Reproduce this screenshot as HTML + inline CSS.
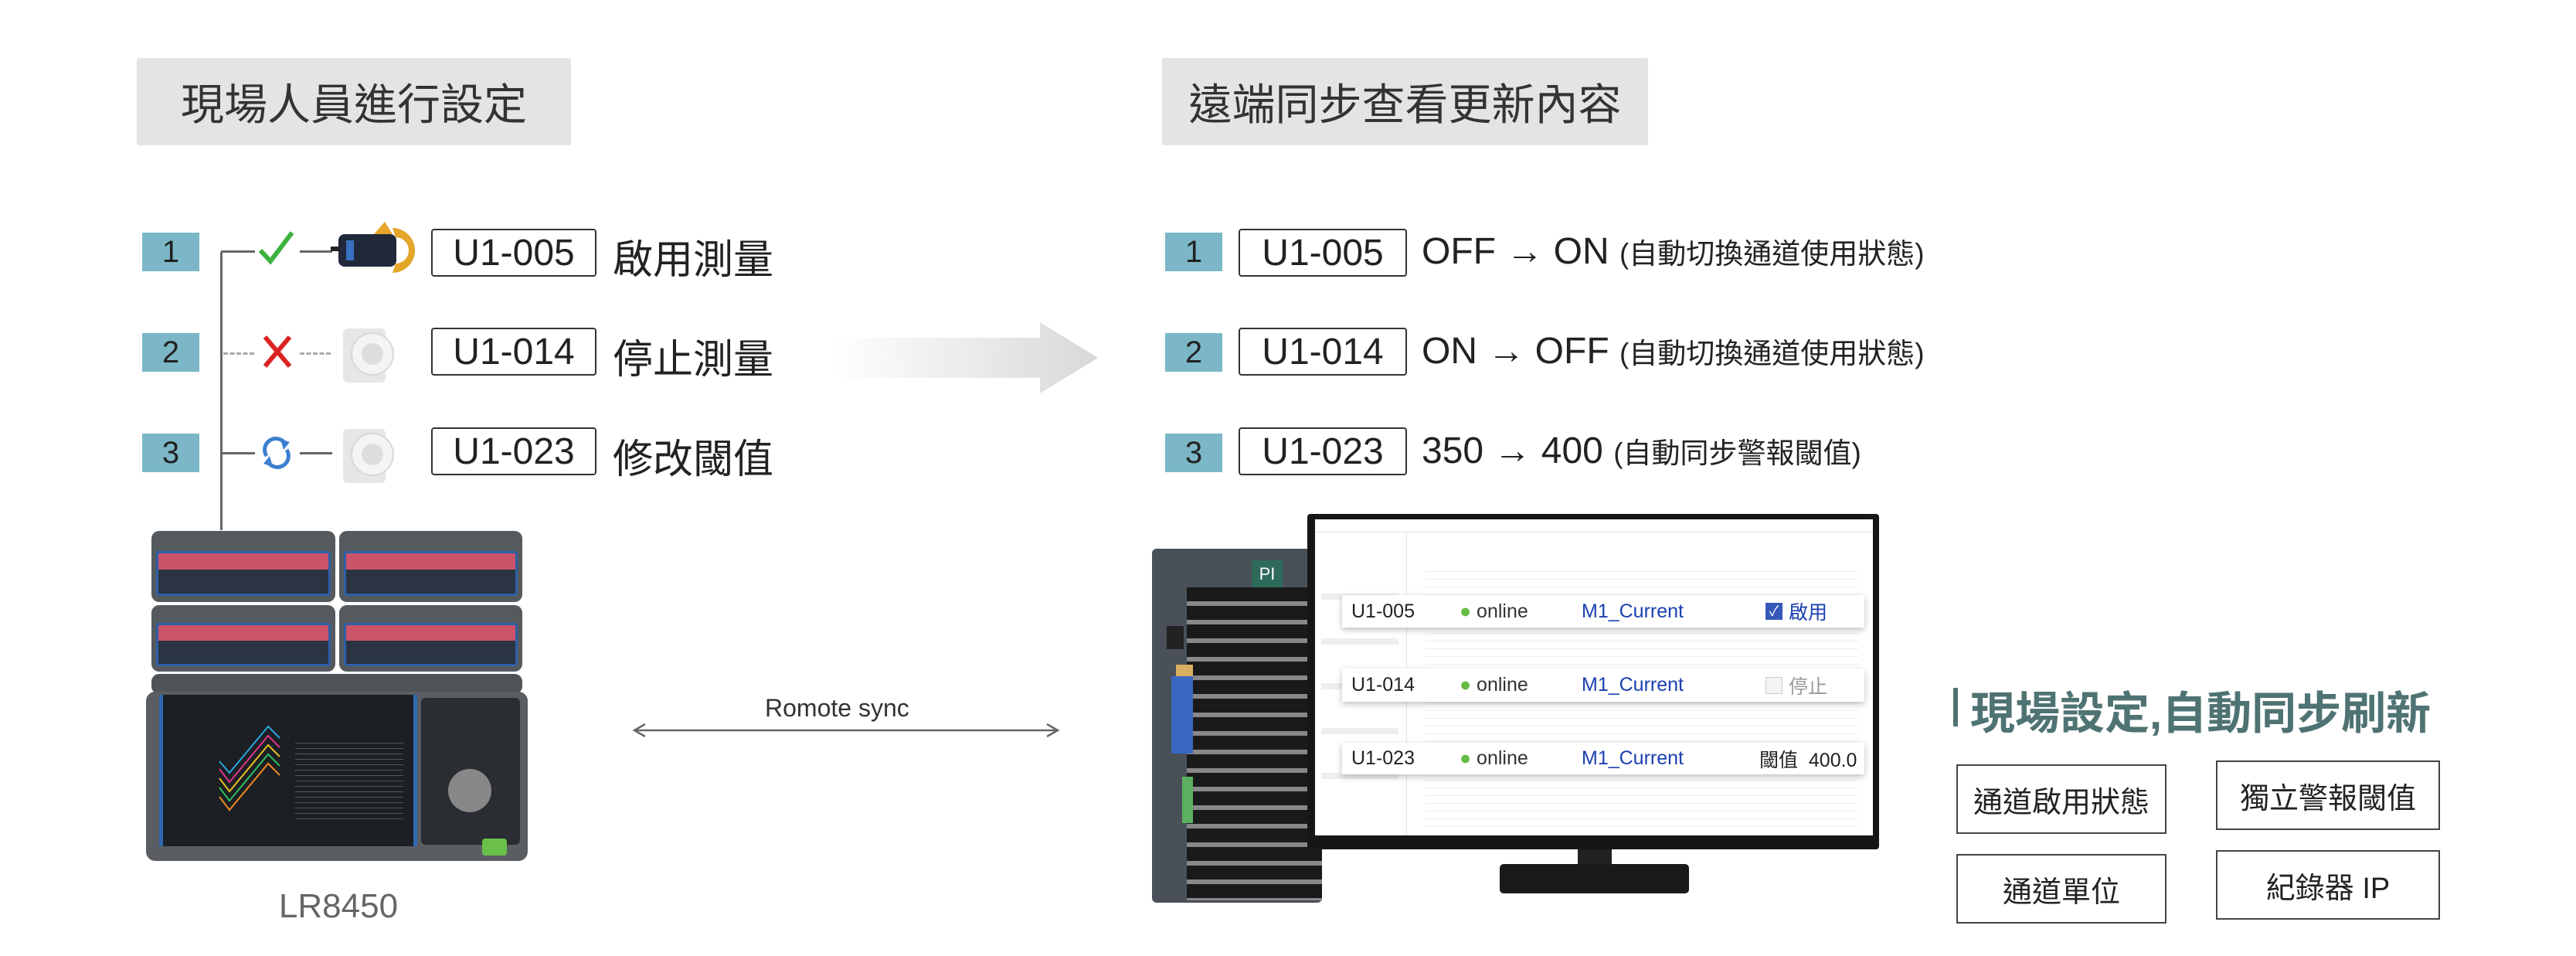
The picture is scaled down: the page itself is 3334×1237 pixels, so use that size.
<!DOCTYPE html>
<html><head><meta charset="utf-8"><style>
*{margin:0;padding:0;box-sizing:border-box}
body{width:3334px;height:1237px;background:#fff;position:relative;overflow:hidden;font-family:"Liberation Sans","Noto Sans CJK TC",sans-serif;color:#222}
.a{position:absolute}
.title{background:#e4e4e4;font-size:56px;color:#333;display:flex;align-items:center;justify-content:center;border-radius:3px}
.num{background:#7bb7c7;color:#222;font-size:40px;display:flex;align-items:center;justify-content:center;width:74px;height:50px}
.ubox{border:2.5px solid #333;border-radius:4px;font-size:48px;display:flex;align-items:center;justify-content:center;height:62px;width:214px;color:#222;background:#fff}
.lt{font-size:52px;color:#222;white-space:nowrap}
.rt{font-size:48px;color:#222;white-space:nowrap}
.rt small{font-size:37px}
.fb{border:2px solid #444;font-size:38px;display:flex;align-items:center;justify-content:center;background:#fff}
.mod{background:#555a5f;border-radius:10px}
.term{background:linear-gradient(#1e4a8a,#2b5fa8);border-radius:4px}
.ov{background:#fff;box-shadow:0 3px 8px rgba(0,0,0,.25);display:flex;align-items:center;font-size:25px}
</style></head><body>

<div class="a title" style="left:177px;top:75px;width:562px;height:113px">現場人員進行設定</div>
<div class="a title" style="left:1504px;top:75px;width:629px;height:113px">遠端同步查看更新內容</div>

<div class="a" style="left:285px;top:326px;width:3px;height:360px;background:#666"></div>
<div class="a num" style="left:184px;top:301px">1</div>
<div class="a num" style="left:184px;top:431px">2</div>
<div class="a num" style="left:184px;top:561px">3</div>
<div class="a" style="left:286px;top:324px;width:44px;height:3px;background:#666"></div>
<div class="a" style="left:388px;top:324px;width:42px;height:3px;background:#666"></div>
<div class="a" style="left:289px;top:456px;width:40px;border-top:3px dashed #aaa"></div>
<div class="a" style="left:388px;top:456px;width:40px;border-top:3px dashed #aaa"></div>
<div class="a" style="left:286px;top:585px;width:44px;height:3px;background:#666"></div>
<div class="a" style="left:388px;top:585px;width:42px;height:3px;background:#666"></div>
<svg class="a" style="left:332px;top:296px" width="52" height="50"><polyline points="5,28 18,42 46,5" fill="none" stroke="#3db23d" stroke-width="6"/></svg>
<svg class="a" style="left:337px;top:432px" width="44" height="46"><path d="M6,4 L38,42 M38,4 L6,42" stroke="#d22" stroke-width="6"/></svg>
<svg class="a" style="left:335px;top:562px" width="46" height="48"><path d="M10,28 A14,14 0 0 1 34,12" fill="none" stroke="#3b7fd0" stroke-width="5"/><path d="M36,20 A14,14 0 0 1 12,36" fill="none" stroke="#3b7fd0" stroke-width="5"/><polygon points="28,6 40,10 32,20" fill="#3b7fd0"/><polygon points="18,42 6,38 14,28" fill="#3b7fd0"/></svg>
<svg class="a" style="left:428px;top:285px" width="120" height="75"><rect x="10" y="18" width="75" height="42" rx="8" fill="#20283a"/><rect x="20" y="26" width="10" height="26" fill="#3a70c0"/><path d="M80,10 A28,28 0 1 1 80,68 L84,56 A17,17 0 1 0 84,22 Z" fill="#e3a62a"/><polygon points="56,18 70,2 80,18" fill="#e3a62a"/><rect x="0" y="34" width="12" height="6" fill="#222"/></svg>
<svg class="a" style="left:430px;top:420px" width="90" height="80"><rect x="14" y="5" width="55" height="70" rx="6" fill="#e6e6e6"/><circle cx="52" cy="38" r="27" fill="#f4f4f4" stroke="#d8d8d8" stroke-width="2"/><circle cx="52" cy="38" r="14" fill="#ddd"/></svg>
<svg class="a" style="left:430px;top:550px" width="90" height="80"><rect x="14" y="5" width="55" height="70" rx="6" fill="#e6e6e6"/><circle cx="52" cy="38" r="27" fill="#f4f4f4" stroke="#d8d8d8" stroke-width="2"/><circle cx="52" cy="38" r="14" fill="#ddd"/></svg>
<div class="a ubox" style="left:558px;top:296px">U1-005</div>
<div class="a ubox" style="left:558px;top:424px">U1-014</div>
<div class="a ubox" style="left:558px;top:553px">U1-023</div>
<div class="a lt" style="left:793px;top:294px">啟用測量</div>
<div class="a lt" style="left:793px;top:423px">停止測量</div>
<div class="a lt" style="left:793px;top:552px">修改閾值</div>

<div class="a mod" style="left:196px;top:687px;width:238px;height:92px"></div>
<div class="a term" style="left:202px;top:713px;width:226px;height:58px;background:linear-gradient(#cc5468 0 40%,#2a3442 40% 100%);border:3px solid #2e5fa8"></div>
<div class="a mod" style="left:439px;top:687px;width:237px;height:92px"></div>
<div class="a term" style="left:445px;top:713px;width:225px;height:58px;background:linear-gradient(#cc5468 0 40%,#2a3442 40% 100%);border:3px solid #2e5fa8"></div>
<div class="a mod" style="left:196px;top:783px;width:238px;height:86px"></div>
<div class="a term" style="left:202px;top:806px;width:226px;height:56px;background:linear-gradient(#cc5468 0 40%,#2a3442 40% 100%);border:3px solid #2e5fa8"></div>
<div class="a mod" style="left:439px;top:783px;width:237px;height:86px"></div>
<div class="a term" style="left:445px;top:806px;width:225px;height:56px;background:linear-gradient(#cc5468 0 40%,#2a3442 40% 100%);border:3px solid #2e5fa8"></div>
<div class="a mod" style="left:196px;top:872px;width:480px;height:26px;background:#4e5358"></div>
<div class="a" style="left:189px;top:895px;width:494px;height:219px;background:#5a5e63;border-radius:12px"></div>
<div class="a" style="left:206px;top:899px;width:334px;height:196px;background:#1c1f24;border-left:5px solid #2e6ab0;border-right:5px solid #2e6ab0"></div>
<svg class="a" style="left:282px;top:935px" width="90" height="130"><polyline points="2,50 15,65 65,5 80,20" fill="none" stroke="#29a8e0" stroke-width="2"/><polyline points="2,60 15,77 65,17 80,32" fill="none" stroke="#e0358a" stroke-width="2"/><polyline points="2,72 15,89 65,29 80,44" fill="none" stroke="#e8c020" stroke-width="2"/><polyline points="2,84 15,101 65,41 80,56" fill="none" stroke="#2ec060" stroke-width="2"/><polyline points="2,96 15,113 65,53 80,68" fill="none" stroke="#f08a20" stroke-width="2"/></svg>
<div class="a" style="left:382px;top:955px;width:140px;height:110px;background:repeating-linear-gradient(#1c1f24 0 6px,#555 6px 7px)"></div>
<div class="a" style="left:545px;top:903px;width:128px;height:190px;background:#2a2d32;border-radius:6px"></div>
<div class="a" style="left:580px;top:995px;width:56px;height:56px;border-radius:50%;background:#888"></div>
<div class="a" style="left:624px;top:1085px;width:32px;height:22px;background:#6ac04a;border-radius:4px"></div>
<div class="a" style="left:300px;top:1148px;width:276px;text-align:center;font-size:44px;color:#666">LR8450</div>

<svg class="a" style="left:1079px;top:417px" width="345" height="92"><defs><linearGradient id="g" x1="0" x2="1"><stop offset="0" stop-color="#fff"/><stop offset="1" stop-color="#d8d8d8"/></linearGradient></defs><polygon points="0,20 267,20 267,0 342,46 267,92 267,72 0,72" fill="url(#g)"/></svg>

<div class="a" style="left:990px;top:898px;font-size:32px;color:#333">Romote sync</div>
<svg class="a" style="left:815px;top:932px" width="560" height="26"><line x1="8" y1="13" x2="552" y2="13" stroke="#666" stroke-width="2.5"/><polyline points="20,5 6,13 20,21" fill="none" stroke="#666" stroke-width="2.5"/><polyline points="540,5 554,13 540,21" fill="none" stroke="#666" stroke-width="2.5"/></svg>

<div class="a num" style="left:1508px;top:301px">1</div>
<div class="a num" style="left:1508px;top:431px">2</div>
<div class="a num" style="left:1508px;top:561px">3</div>
<div class="a ubox" style="left:1603px;top:296px;width:218px">U1-005</div>
<div class="a ubox" style="left:1603px;top:424px;width:218px">U1-014</div>
<div class="a ubox" style="left:1603px;top:553px;width:218px">U1-023</div>
<div class="a rt" style="left:1840px;top:298px">OFF → ON <small>(自動切換通道使用狀態)</small></div>
<div class="a rt" style="left:1840px;top:427px">ON → OFF <small>(自動切換通道使用狀態)</small></div>
<div class="a rt" style="left:1840px;top:556px">350 → 400 <small>(自動同步警報閾值)</small></div>

<div class="a" style="left:1491px;top:710px;width:220px;height:458px;background:#4a5058;border-radius:6px"></div>
<div class="a" style="left:1536px;top:760px;width:175px;height:405px;background:repeating-linear-gradient(#1a1a1a 0 18px,#888 18px 24px)"></div>
<div class="a" style="left:1620px;top:725px;width:40px;height:35px;background:#2e6a5a;color:#fff;font-size:22px;text-align:center;line-height:35px">PI</div>
<div class="a" style="left:1510px;top:810px;width:22px;height:30px;background:#222"></div>
<div class="a" style="left:1522px;top:860px;width:22px;height:60px;background:#d8b060"></div>
<div class="a" style="left:1516px;top:875px;width:28px;height:100px;background:#3a68c0"></div>
<div class="a" style="left:1530px;top:1005px;width:14px;height:60px;background:#5cb060"></div>

<div class="a" style="left:2042px;top:1099px;width:44px;height:22px;background:#222"></div>
<div class="a" style="left:1941px;top:1118px;width:245px;height:38px;background:#1a1a1a;border-radius:5px"></div>
<div class="a" style="left:1692px;top:665px;width:740px;height:434px;background:#161616;border-radius:4px"></div>
<div class="a" style="left:1702px;top:672px;width:722px;height:409px;background:#fff"></div>
<div class="a" style="left:1702px;top:688px;width:722px;height:1px;background:#ddd"></div>
<div class="a" style="left:1820px;top:688px;width:1px;height:393px;background:#e4e4e4"></div>
<div class="a" style="left:1710px;top:718px;width:100px;height:300px;background:repeating-linear-gradient(#fff 0 50px,#eee 50px 58px)"></div>
<div class="a" style="left:1845px;top:730px;width:560px;height:340px;background:repeating-linear-gradient(#fff 0 9px,#ececec 9px 10px)"></div>
<div class="a ov" style="left:1737px;top:770px;width:676px;height:42px"><span style="position:absolute;left:12px">U1-005</span><span style="position:absolute;left:152px;color:#333"><b style="color:#66bb44">●</b> online</span><span style="position:absolute;left:310px;color:#1a3fb0">M1_Current</span><span style="position:absolute;left:548px;width:22px;height:22px;background:#3358b8;color:#fff;font-size:18px;text-align:center;line-height:22px">✓</span><span style="position:absolute;left:578px;color:#1a3fb0">啟用</span></div>
<div class="a ov" style="left:1737px;top:865px;width:676px;height:43px"><span style="position:absolute;left:12px">U1-014</span><span style="position:absolute;left:152px;color:#333"><b style="color:#66bb44">●</b> online</span><span style="position:absolute;left:310px;color:#1a3fb0">M1_Current</span><span style="position:absolute;left:548px;width:22px;height:22px;border:1px solid #ccc;background:#f3f3f3"></span><span style="position:absolute;left:578px;color:#999">停止</span></div>
<div class="a ov" style="left:1737px;top:961px;width:676px;height:41px"><span style="position:absolute;left:12px">U1-023</span><span style="position:absolute;left:152px;color:#333"><b style="color:#66bb44">●</b> online</span><span style="position:absolute;left:310px;color:#1a3fb0">M1_Current</span><span style="position:absolute;left:540px">閾值&nbsp; 400.0</span></div>

<div class="a" style="left:2528px;top:890px;width:6px;height:50px;background:#4f7372"></div>
<div class="a" style="left:2550px;top:876px;font-size:58px;font-weight:bold;color:#4f7372;white-space:nowrap">現場設定,自動同步刷新</div>
<div class="a fb" style="left:2532px;top:989px;width:272px;height:90px">通道啟用狀態</div>
<div class="a fb" style="left:2868px;top:984px;width:290px;height:90px">獨立警報閾值</div>
<div class="a fb" style="left:2532px;top:1105px;width:272px;height:90px">通道單位</div>
<div class="a fb" style="left:2868px;top:1100px;width:290px;height:90px">紀錄器 IP</div>
</body></html>
